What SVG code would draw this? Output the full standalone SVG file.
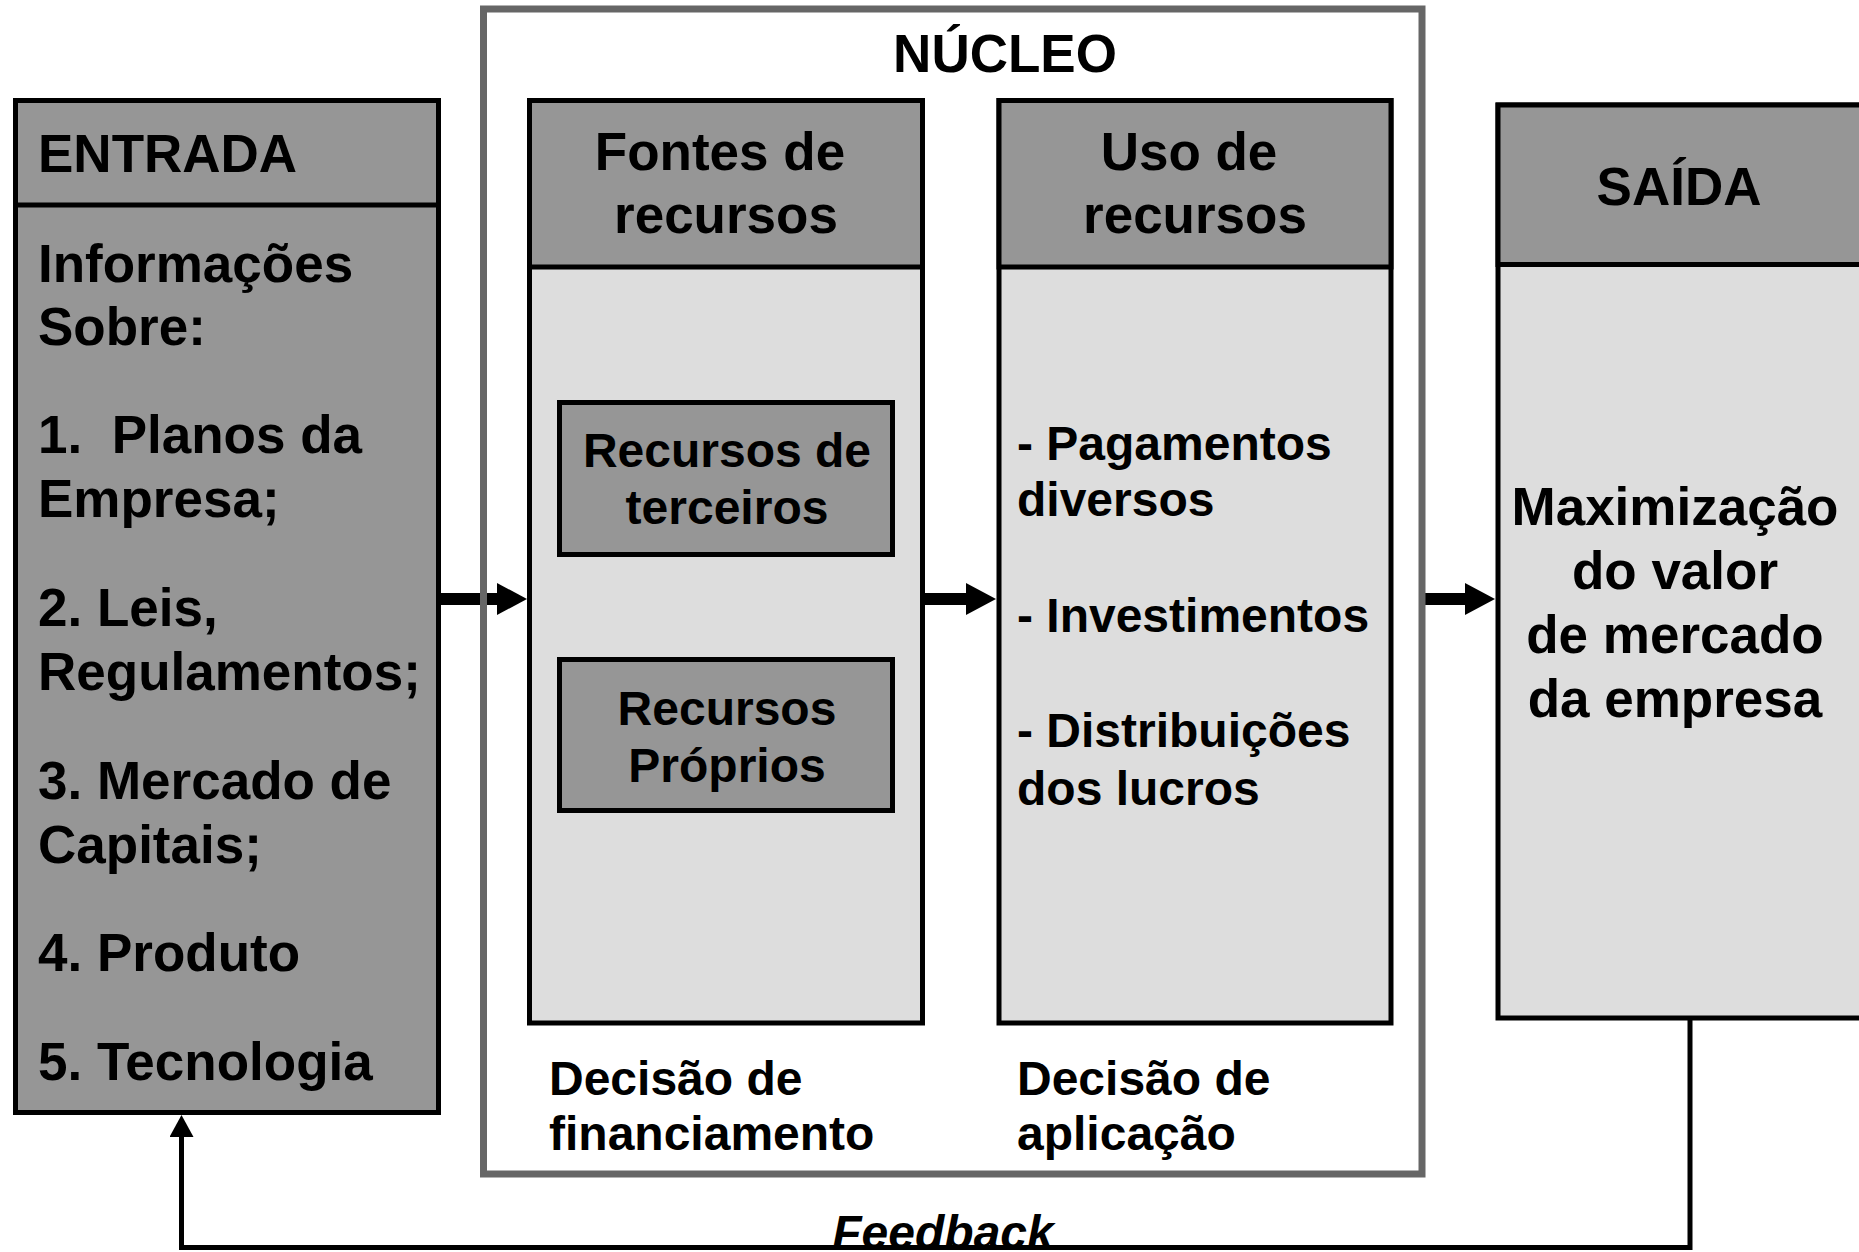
<svg xmlns="http://www.w3.org/2000/svg" width="1859" height="1252" viewBox="0 0 1859 1252">
<style>
text{font-family:"Liberation Sans",Arial,sans-serif;font-weight:bold;fill:#000}
.big{font-size:53px}
.mid{font-size:48px}
.dark{fill:#969696;stroke:#000;stroke-width:5}
.light{fill:#dddddd;stroke:#000;stroke-width:5}
.div{stroke:#000;stroke-width:5}
.c{text-anchor:middle}
.conn{fill:none;stroke:#000}
</style>
<defs>
<marker id="bigHead" markerUnits="userSpaceOnUse" markerWidth="30" markerHeight="32" viewBox="0 0 30 32" refX="15" refY="16" orient="auto">
<path d="M0,0 L30,16 L0,32 z" fill="#000"/>
</marker>
<marker id="fbHead" markerUnits="userSpaceOnUse" markerWidth="22" markerHeight="24" viewBox="0 0 22 24" refX="14" refY="12" orient="auto">
<path d="M0,0 L22,12 L0,24 z" fill="#000"/>
</marker>
</defs>
<rect width="1859" height="1252" fill="#fff"/>

<g id="connectors">
<line class="conn" x1="438" y1="599" x2="512" y2="599" stroke-width="12" marker-end="url(#bigHead)"/>
<line class="conn" x1="923" y1="599" x2="981" y2="599" stroke-width="12" marker-end="url(#bigHead)"/>
<line class="conn" x1="1422" y1="599" x2="1480" y2="599" stroke-width="12" marker-end="url(#bigHead)"/>
</g>

<g id="nucleo">
<rect x="483.5" y="9" width="938.5" height="1165" fill="#fff" fill-opacity="0" stroke="#666" stroke-width="7"/>
<text class="big c" x="1005" y="72">NÚCLEO</text>
<text class="mid" x="549" y="1095">Decisão de</text>
<text class="mid" x="549" y="1150">financiamento</text>
<text class="mid" x="1017" y="1095">Decisão de</text>
<text class="mid" x="1017" y="1150">aplicação</text>
</g>

<g id="entrada">
<rect class="dark" x="15.5" y="100.5" width="423" height="1012"/>
<line class="div" x1="15.5" y1="205" x2="438.5" y2="205"/>
<text class="big" x="38" y="172">ENTRADA</text>
<text class="big" x="38" y="282">Informações</text>
<text class="big" x="38" y="345">Sobre:</text>
<text class="big" x="38" y="453" xml:space="preserve">1.  Planos da</text>
<text class="big" x="38" y="517">Empresa;</text>
<text class="big" x="38" y="626">2. Leis,</text>
<text class="big" x="38" y="690">Regulamentos;</text>
<text class="big" x="38" y="799">3. Mercado de</text>
<text class="big" x="38" y="863">Capitais;</text>
<text class="big" x="38" y="971">4. Produto</text>
<text class="big" x="38" y="1080">5. Tecnologia</text>
</g>

<g id="fontes">
<rect class="light" x="529.5" y="100.5" width="393" height="922.5"/>
<rect fill="#969696" x="529.5" y="100.5" width="393" height="166.5" stroke="#000" stroke-width="5"/>
<text class="big c" x="720" y="170">Fontes de</text>
<text class="big c" x="726" y="233">recursos</text>
</g>

<g id="recursos-terceiros">
<rect class="dark" x="559.5" y="402.5" width="333" height="152"/>
<text class="mid c" x="727" y="467">Recursos de</text>
<text class="mid c" x="727" y="524">terceiros</text>
</g>

<g id="recursos-proprios">
<rect class="dark" x="559.5" y="659.5" width="333" height="151"/>
<text class="mid c" x="727" y="725">Recursos</text>
<text class="mid c" x="727" y="782">Próprios</text>
</g>

<g id="uso">
<rect class="light" x="999" y="100.5" width="392" height="922.5"/>
<rect fill="#969696" x="999" y="100.5" width="392" height="166.5" stroke="#000" stroke-width="5"/>
<text class="big c" x="1189" y="170">Uso de</text>
<text class="big c" x="1195" y="233">recursos</text>
<text class="mid" x="1017" y="460">- Pagamentos</text>
<text class="mid" x="1017" y="516">diversos</text>
<text class="mid" x="1017" y="632">- Investimentos</text>
<text class="mid" x="1017" y="747">- Distribuições</text>
<text class="mid" x="1017" y="805">dos lucros</text>
</g>

<g id="saida">
<rect class="light" x="1498" y="105" width="380" height="913"/>
<rect fill="#969696" x="1498" y="105" width="380" height="159.5" stroke="#000" stroke-width="5"/>
<text class="big c" x="1679" y="205">SAÍDA</text>
<text class="big c" x="1675" y="525">Maximização</text>
<text class="big c" x="1675" y="589">do valor</text>
<text class="big c" x="1675" y="653">de mercado</text>
<text class="big c" x="1675" y="717">da empresa</text>
</g>

<g id="feedback">
<text x="943" y="1249" text-anchor="middle" style="font-size:48px;font-style:italic">Feedback</text>
<polyline class="conn" points="1690,1018 1690,1247.5 181.5,1247.5 181.5,1123" stroke-width="5" marker-end="url(#fbHead)"/>
</g>
</svg>
